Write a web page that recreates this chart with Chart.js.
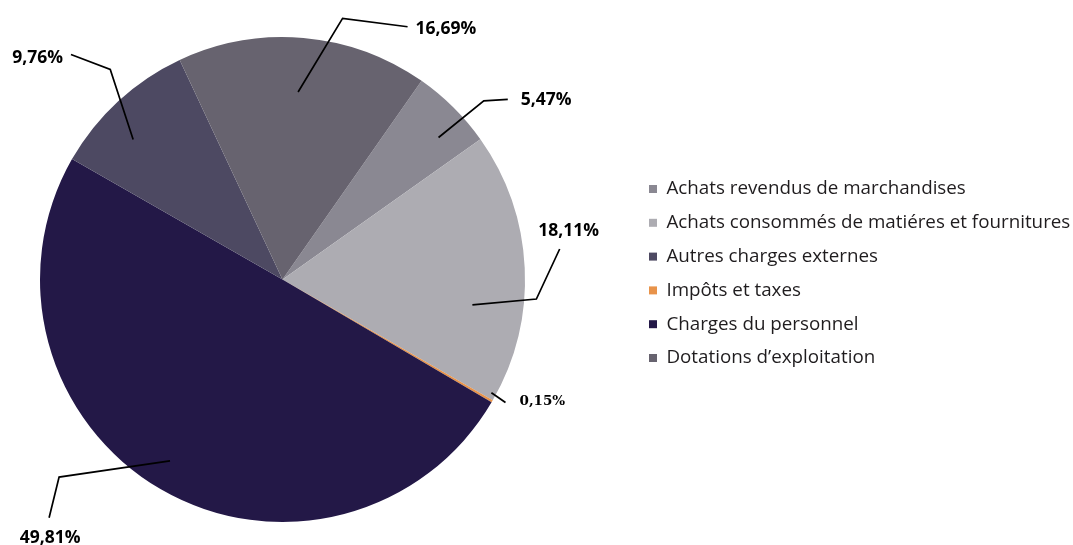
<!DOCTYPE html>
<html>
<head>
<meta charset="utf-8">
<script src="https://cdn.jsdelivr.net/npm/chart.js@4.4.1/dist/chart.umd.min.js"></script>
<style>
  html, body { margin: 0; padding: 0; background: #ffffff; overflow: hidden; }
  #wrap { width: 1073px; height: 545px; overflow: hidden; position: relative; }
  #c { position: absolute; left: -69px; top: 0; }
</style>
</head>
<body>
<div id="wrap"><canvas id="c" width="1142" height="545"></canvas></div>
<script>
// ---- data (pie order, clockwise) ----
const categories = [
  'Achats revendus de marchandises',
  'Achats consommés de matiéres et fournitures',
  'Impôts et taxes',
  'Charges du personnel',
  'Autres charges externes',
  'Dotations d\u2019exploitation'
];
const values = [5.47, 18.11, 0.15, 49.81, 9.76, 16.69];
const legendOrder = [
  'Achats revendus de marchandises',
  'Achats consommés de matiéres et fournitures',
  'Autres charges externes',
  'Impôts et taxes',
  'Charges du personnel',
  'Dotations d\u2019exploitation'
];

// ---- styles ----
const colors = ['#8a8892', '#adacb2', '#e8934a', '#231847', '#4d4962', '#67636f'];
const LABEL_FONT = 'bold 17.5px "Open Sans"';
const SMALL_FONT = 'bold 13.5px "DejaVu Serif"';
// leader geometry per slice: inner/elbow = [angle offset from slice middle (deg), radius factor]
// end = pixel offset from elbow; label = [dx, dy, align] from end
const leaders = [
  { inner: [2.85, 0.87], elbow: [3.55, 1.11], end: [24, -1.4], label: [13, 0.7, 'left'], font: LABEL_FONT },
  { inner: [10.3, 0.79], elbow: [7.1, 1.05], end: [23.3, -50], label: [9, -18, 'center'], font: LABEL_FONT },
  { inner: [-1.7, 0.98], elbow: [-1.3, 1.05], end: [0, 0], label: [14, -0.5, 'left'], font: SMALL_FONT },
  { inner: [1.7, 0.88], elbow: [18.4, 1.23], end: [-10, 40.6], label: [1, 20, 'center'], font: LABEL_FONT },
  { inner: [-4.2, 0.844], elbow: [3.3, 1.12], end: [-39.3, -15], label: [-8, 3.5, 'right'], font: LABEL_FONT },
  { inner: [-0.2, 0.776], elbow: [8.0, 1.105], end: [65, 8.4], label: [8, 2, 'left'], font: LABEL_FONT }
];
const LEGEND_W = 439;

const fmt = v => v.toFixed(2).replace('.', ',') + '%';

const legendFix = {
  id: 'legendFix',
  beforeInit(chart) {
    const lg = chart.legend;
    if (!lg) return;
    const orig = lg.fit;
    lg.fit = function () { orig.call(this); this.width = LEGEND_W; };
  },
  afterLayout(chart) {
    if (chart.legend) { chart.legend.top -= 6; chart.legend.bottom -= 6; }
  }
};

const leaderPlugin = {
  id: 'leaders',
  afterDatasetsDraw(chart) {
    const ctx = chart.ctx;
    const meta = chart.getDatasetMeta(0);
    meta.data.forEach((arc, i) => {
      const g = leaders[i];
      const p = arc.getProps(['x', 'y', 'startAngle', 'endAngle', 'outerRadius'], true);
      const mid = (p.startAngle + p.endAngle) / 2;
      const pol = q => {
        const a = mid + q[0] * Math.PI / 180;
        return [p.x + Math.cos(a) * p.outerRadius * q[1], p.y + Math.sin(a) * p.outerRadius * q[1]];
      };
      const p1 = pol(g.inner);
      const p2 = pol(g.elbow);
      const p3 = [p2[0] + g.end[0], p2[1] + g.end[1]];
      ctx.save();
      ctx.strokeStyle = '#000000';
      ctx.lineWidth = 1.7;
      ctx.lineJoin = 'miter';
      ctx.beginPath();
      ctx.moveTo(p1[0], p1[1]);
      ctx.lineTo(p2[0], p2[1]);
      ctx.lineTo(p3[0], p3[1]);
      ctx.stroke();
      ctx.font = g.font;
      ctx.fillStyle = '#000000';
      ctx.textAlign = g.label[2];
      ctx.textBaseline = 'middle';
      ctx.fillText(fmt(values[i]), p3[0] + g.label[0], p3[1] + g.label[1]);
      ctx.restore();
    });
  }
};

new Chart(document.getElementById('c'), {
  type: 'pie',
  data: {
    labels: categories,
    datasets: [{
      data: values,
      backgroundColor: colors,
      borderWidth: 0
    }]
  },
  options: {
    responsive: false,
    animation: false,
    devicePixelRatio: 1,
    rotation: 35,
    layout: { padding: { left: 0, right: 0, top: 37, bottom: 23 } },
    plugins: {
      tooltip: { enabled: false },
      legend: {
        position: 'right',
        align: 'center',
        labels: {
          boxWidth: 8,
          boxHeight: 8,
          padding: 15,
          color: '#1f1c1e',
          font: { family: '"Open Sans"', size: 18.8 },
          sort: (a, b) => legendOrder.indexOf(a.text) - legendOrder.indexOf(b.text)
        }
      }
    }
  },
  plugins: [legendFix, leaderPlugin]
});
</script>
</body>
</html>
